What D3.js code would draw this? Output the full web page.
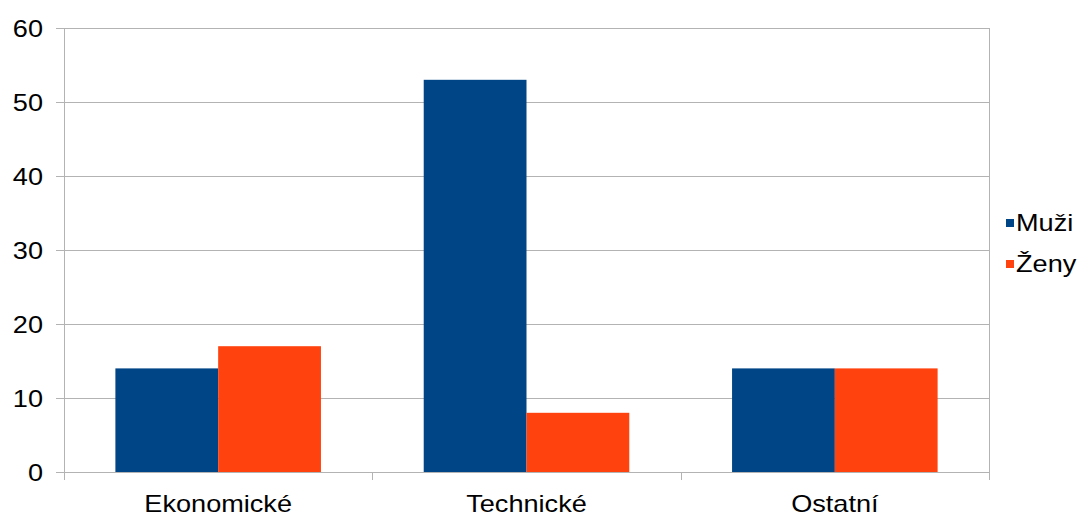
<!DOCTYPE html>
<html>
<head>
<meta charset="utf-8">
<script src="https://cdn.jsdelivr.net/npm/d3@7"></script>
<style>
  html, body { margin: 0; padding: 0; background: #fff; }
  svg { display: block; font-family: "Liberation Sans", Arial, sans-serif; }
</style>
</head>
<body>
<svg id="chart" width="1080" height="516"></svg>
<script>
// Data
const categories = ["Ekonomické", "Technické", "Ostatní"];
const seriesNames = ["Muži", "Ženy"];
const muzi = [14, 53, 14];
const zeny = [17, 8, 14];
const yTicks = [0, 10, 20, 30, 40, 50, 60];
const colors = ["#004586", "#ff420e"];

const series = [muzi, zeny];

const svg = d3.select("#chart");
const margin = { left: 64, right: 91, top: 28, bottom: 44 };
const width = 1080, height = 516;
const x0 = margin.left, x1 = width - margin.right;
const yTop = margin.top, yBot = height - margin.bottom;

// text is drawn slightly wide
const FONT = 24, SX = 1.13;

const x = d3.scaleBand().domain(categories).range([x0, x1]).padding(0);
const xs = d3.scaleBand().domain(seriesNames)
  .range([0, x.bandwidth()]).paddingOuter(0.5).paddingInner(0);
const y = d3.scaleLinear().domain([0, 60]).range([yBot, yTop]);

const gridColor = "#b3b3b3";

// horizontal gridlines and y ticks
const yAxis = d3.axisLeft(y).tickValues(yTicks).tickSize(8).tickPadding(0);
const gy = svg.append("g").attr("transform", `translate(${x0},0)`).call(yAxis);
gy.select(".domain").remove();
gy.selectAll(".tick line").attr("stroke", gridColor);
gy.selectAll(".tick text")
  .attr("x", 0).attr("dy", "0.35em")
  .attr("transform", "translate(-21,0) scale(" + SX + ",1)")
  .attr("font-size", FONT).attr("fill", "#000")
  .attr("font-family", "Liberation Sans, Arial, sans-serif");

svg.append("g").selectAll("line").data(yTicks).join("line")
  .attr("x1", x0).attr("x2", x1)
  .attr("y1", d => Math.round(y(d)) + 0.5).attr("y2", d => Math.round(y(d)) + 0.5)
  .attr("stroke", gridColor).attr("stroke-width", 1);

// vertical plot borders
svg.append("line").attr("x1", x0 + 0.5).attr("x2", x0 + 0.5)
  .attr("y1", yTop).attr("y2", yBot + 8).attr("stroke", gridColor);
svg.append("line").attr("x1", x1 + 0.5).attr("x2", x1 + 0.5)
  .attr("y1", yTop).attr("y2", yBot + 8).attr("stroke", gridColor);

// category boundary ticks on the x axis
const boundaries = categories.map(c => x(c)).concat([x1]);
svg.append("g").selectAll("line").data(boundaries).join("line")
  .attr("x1", d => Math.round(d) + 0.5).attr("x2", d => Math.round(d) + 0.5)
  .attr("y1", yBot).attr("y2", yBot + 8).attr("stroke", gridColor);

// bars
const groups = svg.append("g").selectAll("g").data(categories).join("g")
  .attr("transform", c => `translate(${x(c)},0)`);
groups.selectAll("rect")
  .data((c, i) => seriesNames.map((s, j) => ({ s, j, v: series[j][i] })))
  .join("rect")
  .attr("x", d => xs(d.s))
  .attr("width", xs.bandwidth())
  .attr("y", d => y(d.v))
  .attr("height", d => y(0) - y(d.v))
  .attr("fill", d => colors[d.j]);

// category labels
svg.append("g").selectAll("text").data(categories).join("text")
  .attr("transform", c => `translate(${x(c) + x.bandwidth() / 2},512) scale(${SX},1)`)
  .attr("text-anchor", "middle")
  .attr("font-size", FONT)
  .attr("fill", "#000")
  .text(c => c);

// legend
const legend = svg.append("g").attr("transform", "translate(1006,0)");
const rows = legend.selectAll("g").data(seriesNames).join("g")
  .attr("transform", (d, i) => `translate(0,${219 + i * 41})`);
rows.append("rect").attr("width", 8).attr("height", 8).attr("fill", (d, i) => colors[i]);
rows.append("text")
  .attr("transform", `translate(10,12) scale(${SX},1)`)
  .attr("font-size", FONT).attr("fill", "#000").text(d => d);
</script>
</body>
</html>
